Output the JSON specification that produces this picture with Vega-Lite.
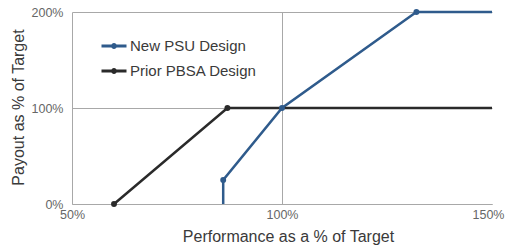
{
  "$schema": "https://vega.github.io/schema/vega-lite/v6.json",
  "width": 420,
  "height": 192,
  "autosize": {"type": "none"},
  "padding": {"left": 72, "top": 12, "right": 14, "bottom": 41},
  "background": "white",
  "config": {
    "view": {"stroke": null},
    "font": "Liberation Sans"
  },
  "data": {
    "values": [
      {"series": "New PSU Design", "i": 1, "perf": 86, "payout": 0},
      {"series": "New PSU Design", "i": 2, "perf": 86, "payout": 25},
      {"series": "New PSU Design", "i": 3, "perf": 100, "payout": 100},
      {"series": "New PSU Design", "i": 4, "perf": 132, "payout": 200},
      {"series": "New PSU Design", "i": 5, "perf": 150, "payout": 200},
      {"series": "Prior PBSA Design", "i": 1, "perf": 60, "payout": 0},
      {"series": "Prior PBSA Design", "i": 2, "perf": 87, "payout": 100},
      {"series": "Prior PBSA Design", "i": 3, "perf": 150, "payout": 100}
    ]
  },
  "encoding": {
    "x": {
      "field": "perf", "type": "quantitative",
      "scale": {"domain": [50, 150], "nice": false, "zero": false},
      "axis": {
        "values": [50, 100, 150],
        "labelExpr": "datum.value + '%'",
        "title": "Performance as a % of Target",
        "grid": true,
        "gridColor": "#a8a8a8",
        "gridWidth": 1,
        "gridOpacity": {"condition": {"test": "datum.value == 150", "value": 0}, "value": 1},
        "domain": true, "domainColor": "#a8a8a8",
        "ticks": false,
        "labelFontSize": 12.5, "labelColor": "#666666", "labelPadding": 4,
        "labelFlush": false,
        "labelOffset": {"condition": {"test": "datum.value == 150", "value": -4}, "value": 0},
        "titleFontSize": 16, "titleFontWeight": "normal", "titleColor": "#3a3a3a",
        "titleX": 216, "titleY": 32, "titleBaseline": "middle", "titleAlign": "center"
      }
    },
    "y": {
      "field": "payout", "type": "quantitative",
      "scale": {"domain": [0, 200], "nice": false},
      "axis": {
        "values": [0, 100, 200],
        "labelExpr": "datum.value + '%'",
        "title": "Payout as % of Target",
        "grid": true, "gridColor": "#a8a8a8", "gridWidth": 1,
        "domain": false, "ticks": false,
        "labelFontSize": 12.5, "labelColor": "#666666", "labelPadding": 9,
        "titleFontSize": 16, "titleFontWeight": "normal", "titleColor": "#3a3a3a",
        "titleX": -54, "titleY": 95, "titleAngle": -90, "titleAlign": "center", "titleBaseline": "middle"
      }
    },
    "color": {
      "field": "series", "type": "nominal",
      "scale": {"domain": ["New PSU Design", "Prior PBSA Design"], "range": ["#2f5b8c", "#2a2a2a"]},
      "legend": {
        "title": null,
        "orient": "none",
        "legendX": 28,
        "legendY": 20,
        "symbolType": "M-1,0H1M-0.12,0A0.12,0.12 0 1,0 0.12,0A0.12,0.12 0 1,0 -0.12,0Z",
        "symbolSize": 625,
        "symbolStrokeWidth": 3,
        "labelFontSize": 15,
        "labelColor": "#3a3a3a",
        "labelOffset": 2,
        "rowPadding": 3
      }
    }
  },
  "layer": [
    {
      "mark": {"type": "line", "strokeWidth": 2.5},
      "encoding": {"order": {"field": "i", "type": "quantitative"}}
    },
    {
      "transform": [
        {"filter": "datum.perf < 150 && !(datum.series == 'New PSU Design' && datum.payout == 0)"}
      ],
      "mark": {"type": "point", "filled": true, "size": 35, "opacity": 1},
      "encoding": {}
    }
  ]
}
